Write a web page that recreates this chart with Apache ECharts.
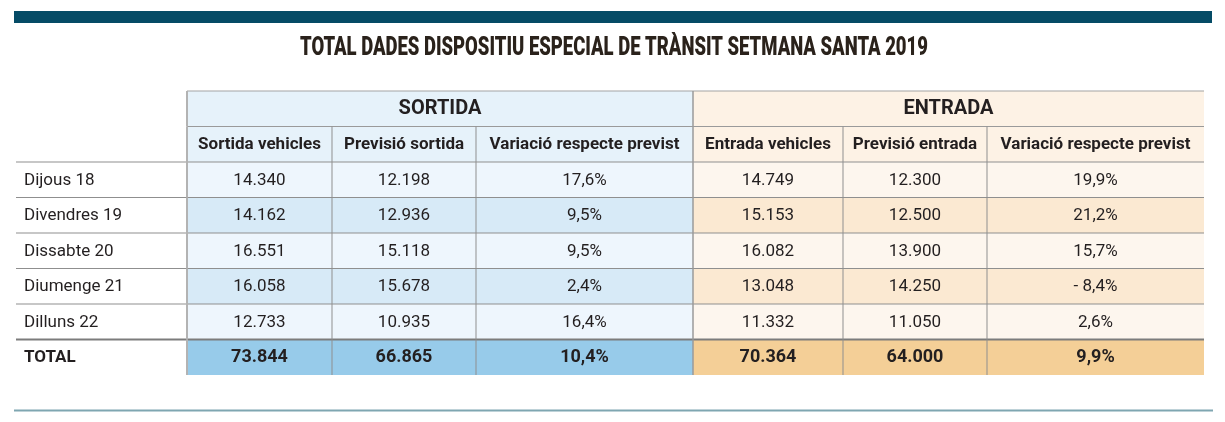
<!DOCTYPE html>
<html>
<head>
<meta charset="utf-8">
<script src="https://cdn.jsdelivr.net/npm/echarts@6/dist/echarts.min.js"></script>
<style>
html,body{margin:0;padding:0;background:#fff;}
#chart{width:1225px;height:422px;}
</style>
</head>
<body>
<div id="chart"></div>
<script>
// ---- data ----
var titleText = 'TOTAL DADES DISPOSITIU ESPECIAL DE TRÀNSIT SETMANA SANTA 2019';
var groupLabels = ['SORTIDA', 'ENTRADA'];
var columnLabels = ['Sortida vehicles', 'Previsió sortida', 'Variació respecte previst',
                    'Entrada vehicles', 'Previsió entrada', 'Variació respecte previst'];
var days = ['Dijous 18', 'Divendres 19', 'Dissabte 20', 'Diumenge 21', 'Dilluns 22'];
var sortidaVehicles = [14340, 14162, 16551, 16058, 12733];
var previsioSortida = [12198, 12936, 15118, 15678, 10935];
var variacioSortida = [17.6, 9.5, 9.5, 2.4, 16.4];
var entradaVehicles = [14749, 15153, 16082, 13048, 11332];
var previsioEntrada = [12300, 12500, 13900, 14250, 11050];
var variacioEntrada = [19.9, 21.2, 15.7, -8.4, 2.6];
var totalLabel = 'TOTAL';
var totalSortida = [73844, 66865, 10.4];
var totalEntrada = [70364, 64000, 9.9];

// ---- layout / style (not data) ----
var colWidths = [171, 145, 144, 217, 150, 144, 217];
var colStart = [0];
colWidths.forEach(function (w, i) { colStart.push(colStart[i] + w); });
var totalWidth = colStart[colStart.length - 1];
var BODY_FONT = 'Roboto, "Liberation Sans", sans-serif';
var TXT = '#231f20';
var fills = {
  blueHead: '#e6f2fa', blueA: '#eef6fd', blueB: '#d7eaf7', blueTot: '#97cbea',
  orHead: '#fdf2e5', orA: '#fdf6ee', orB: '#fbe9d2', orTot: '#f4cf97'
};

function fmtNum(v) {
  return String(v).replace(/\B(?=(\d{3})+(?!\d))/g, '.');
}
function fmtPct(v) {
  var s = Math.abs(v).toFixed(1).replace('.', ',') + '%';
  return v < 0 ? '- ' + s : s;
}

var rowCats = ['h1', 'h2'].concat(days).concat([totalLabel]);

// build cells
var cells = [];
function addCell(col, span, row, text, fill, bold, size, align) {
  cells.push({
    value: [colStart[col], colStart[col + span], row],
    col: col, span: span, row: row, text: text, fill: fill,
    bold: bold, size: size, align: align || 'center'
  });
}
// header row 0
addCell(0, 1, 0, '', null, false, 17);
addCell(1, 3, 0, groupLabels[0], fills.blueHead, true, 20);
addCell(4, 3, 0, groupLabels[1], fills.orHead, true, 20);
// header row 1
addCell(0, 1, 1, '', null, false, 17);
columnLabels.forEach(function (lab, i) {
  addCell(i + 1, 1, 1, lab, i < 3 ? fills.blueHead : fills.orHead, true, 17);
});
// data rows
days.forEach(function (d, i) {
  var r = i + 2;
  var alt = i % 2 === 1;
  var bf = alt ? fills.blueB : fills.blueA;
  var of = alt ? fills.orB : fills.orA;
  addCell(0, 1, r, d, null, false, 17, 'left');
  addCell(1, 1, r, fmtNum(sortidaVehicles[i]), bf, false, 17);
  addCell(2, 1, r, fmtNum(previsioSortida[i]), bf, false, 17);
  addCell(3, 1, r, fmtPct(variacioSortida[i]), bf, false, 17);
  addCell(4, 1, r, fmtNum(entradaVehicles[i]), of, false, 17);
  addCell(5, 1, r, fmtNum(previsioEntrada[i]), of, false, 17);
  addCell(6, 1, r, fmtPct(variacioEntrada[i]), of, false, 17);
});
// total row
var tr = days.length + 2;
addCell(0, 1, tr, totalLabel, null, true, 17, 'left');
addCell(1, 1, tr, fmtNum(totalSortida[0]), fills.blueTot, true, 18);
addCell(2, 1, tr, fmtNum(totalSortida[1]), fills.blueTot, true, 18);
addCell(3, 1, tr, fmtPct(totalSortida[2]), fills.blueTot, true, 18);
addCell(4, 1, tr, fmtNum(totalEntrada[0]), fills.orTot, true, 18);
addCell(5, 1, tr, fmtNum(totalEntrada[1]), fills.orTot, true, 18);
addCell(6, 1, tr, fmtPct(totalEntrada[2]), fills.orTot, true, 18);

function renderItem(params, api) {
  var c = cells[params.dataIndex];
  var p1 = api.coord([api.value(0), api.value(2)]);
  var p2 = api.coord([api.value(1), api.value(2)]);
  var h = api.size([0, 1])[1];
  var x0 = p1[0], x1 = p2[0], y0 = p1[1] - h / 2, y1 = p1[1] + h / 2;
  var children = [];
  if (c.fill) {
    children.push({ type: 'rect', shape: { x: x0, y: y0, width: x1 - x0, height: h },
      style: { fill: c.fill }, z2: 0 });
  }
  var topLine = null;
  if (c.row === 0 && c.col > 0) topLine = { c: '#a3a3a3', w: 1 };
  else if (c.row === 1 && c.col > 0) topLine = { c: '#9a9a9a', w: 1 };
  else if (c.row >= 2 && c.row < tr) topLine = { c: '#8f8f8f', w: 1 };
  else if (c.row === tr) topLine = { c: '#7c7c7c', w: 2 };
  if (topLine) {
    children.push({ type: 'line', shape: { x1: x0, y1: y0, x2: x1, y2: y0 },
      style: { stroke: topLine.c, lineWidth: topLine.w }, z2: 10 });
  }
  var leftLine = null;
  if (c.col === 1) leftLine = { c: '#b3b3b3', w: 2 };
  else if (c.col === 4) leftLine = { c: '#9a9a9a', w: 1.5 };
  else if (c.col > 1) leftLine = { c: '#8f8f8f', w: 1 };
  if (leftLine) {
    children.push({ type: 'line', shape: { x1: x0, y1: y0, x2: x0, y2: y1 },
      style: { stroke: leftLine.c, lineWidth: leftLine.w }, z2: 11 });
  }
  if (c.text) {
    children.push({ type: 'text', z2: 20,
      style: {
        text: c.text,
        x: c.align === 'left' ? x0 + 8 : (x0 + x1) / 2,
        y: (y0 + y1) / 2 + 0.5,
        align: c.align, verticalAlign: 'middle',
        fill: TXT,
        font: (c.bold ? 'bold ' : '') + c.size + 'px ' + BODY_FONT
      } });
  }
  return { type: 'group', children: children };
}

// condensed title: measure and squeeze to the reference width
var TITLE_FONT = '900 25px Roboto, "Liberation Sans", sans-serif';
var TITLE_WIDTH = 628;
var mc = document.createElement('canvas').getContext('2d');
mc.font = TITLE_FONT;
var titleScale = TITLE_WIDTH / mc.measureText(titleText).width;

var chart = echarts.init(document.getElementById('chart'));
chart.setOption({
  animation: false,
  backgroundColor: '#ffffff',
  grid: { left: 16, right: 21, top: 91, bottom: 47 },
  xAxis: { type: 'value', min: 0, max: totalWidth, show: false },
  yAxis: { type: 'category', data: rowCats, inverse: true, show: false },
  graphic: [
    { type: 'rect', shape: { x: 14, y: 11, width: 1198, height: 12 }, style: { fill: '#054b66' } },
    { type: 'rect', shape: { x: 14, y: 409.5, width: 1199, height: 2 }, style: { fill: '#7fa6b1' } },
    { type: 'text', x: 614, y: 49, scaleX: titleScale, originX: 0, originY: 0,
      style: { text: titleText, font: TITLE_FONT, fill: '#2a221b', align: 'center', verticalAlign: 'middle' } }
  ],
  series: [{
    type: 'custom',
    renderItem: renderItem,
    encode: { x: [0, 1], y: 2 },
    data: cells.map(function (c) { return c.value; })
  }]
});
</script>
</body>
</html>
